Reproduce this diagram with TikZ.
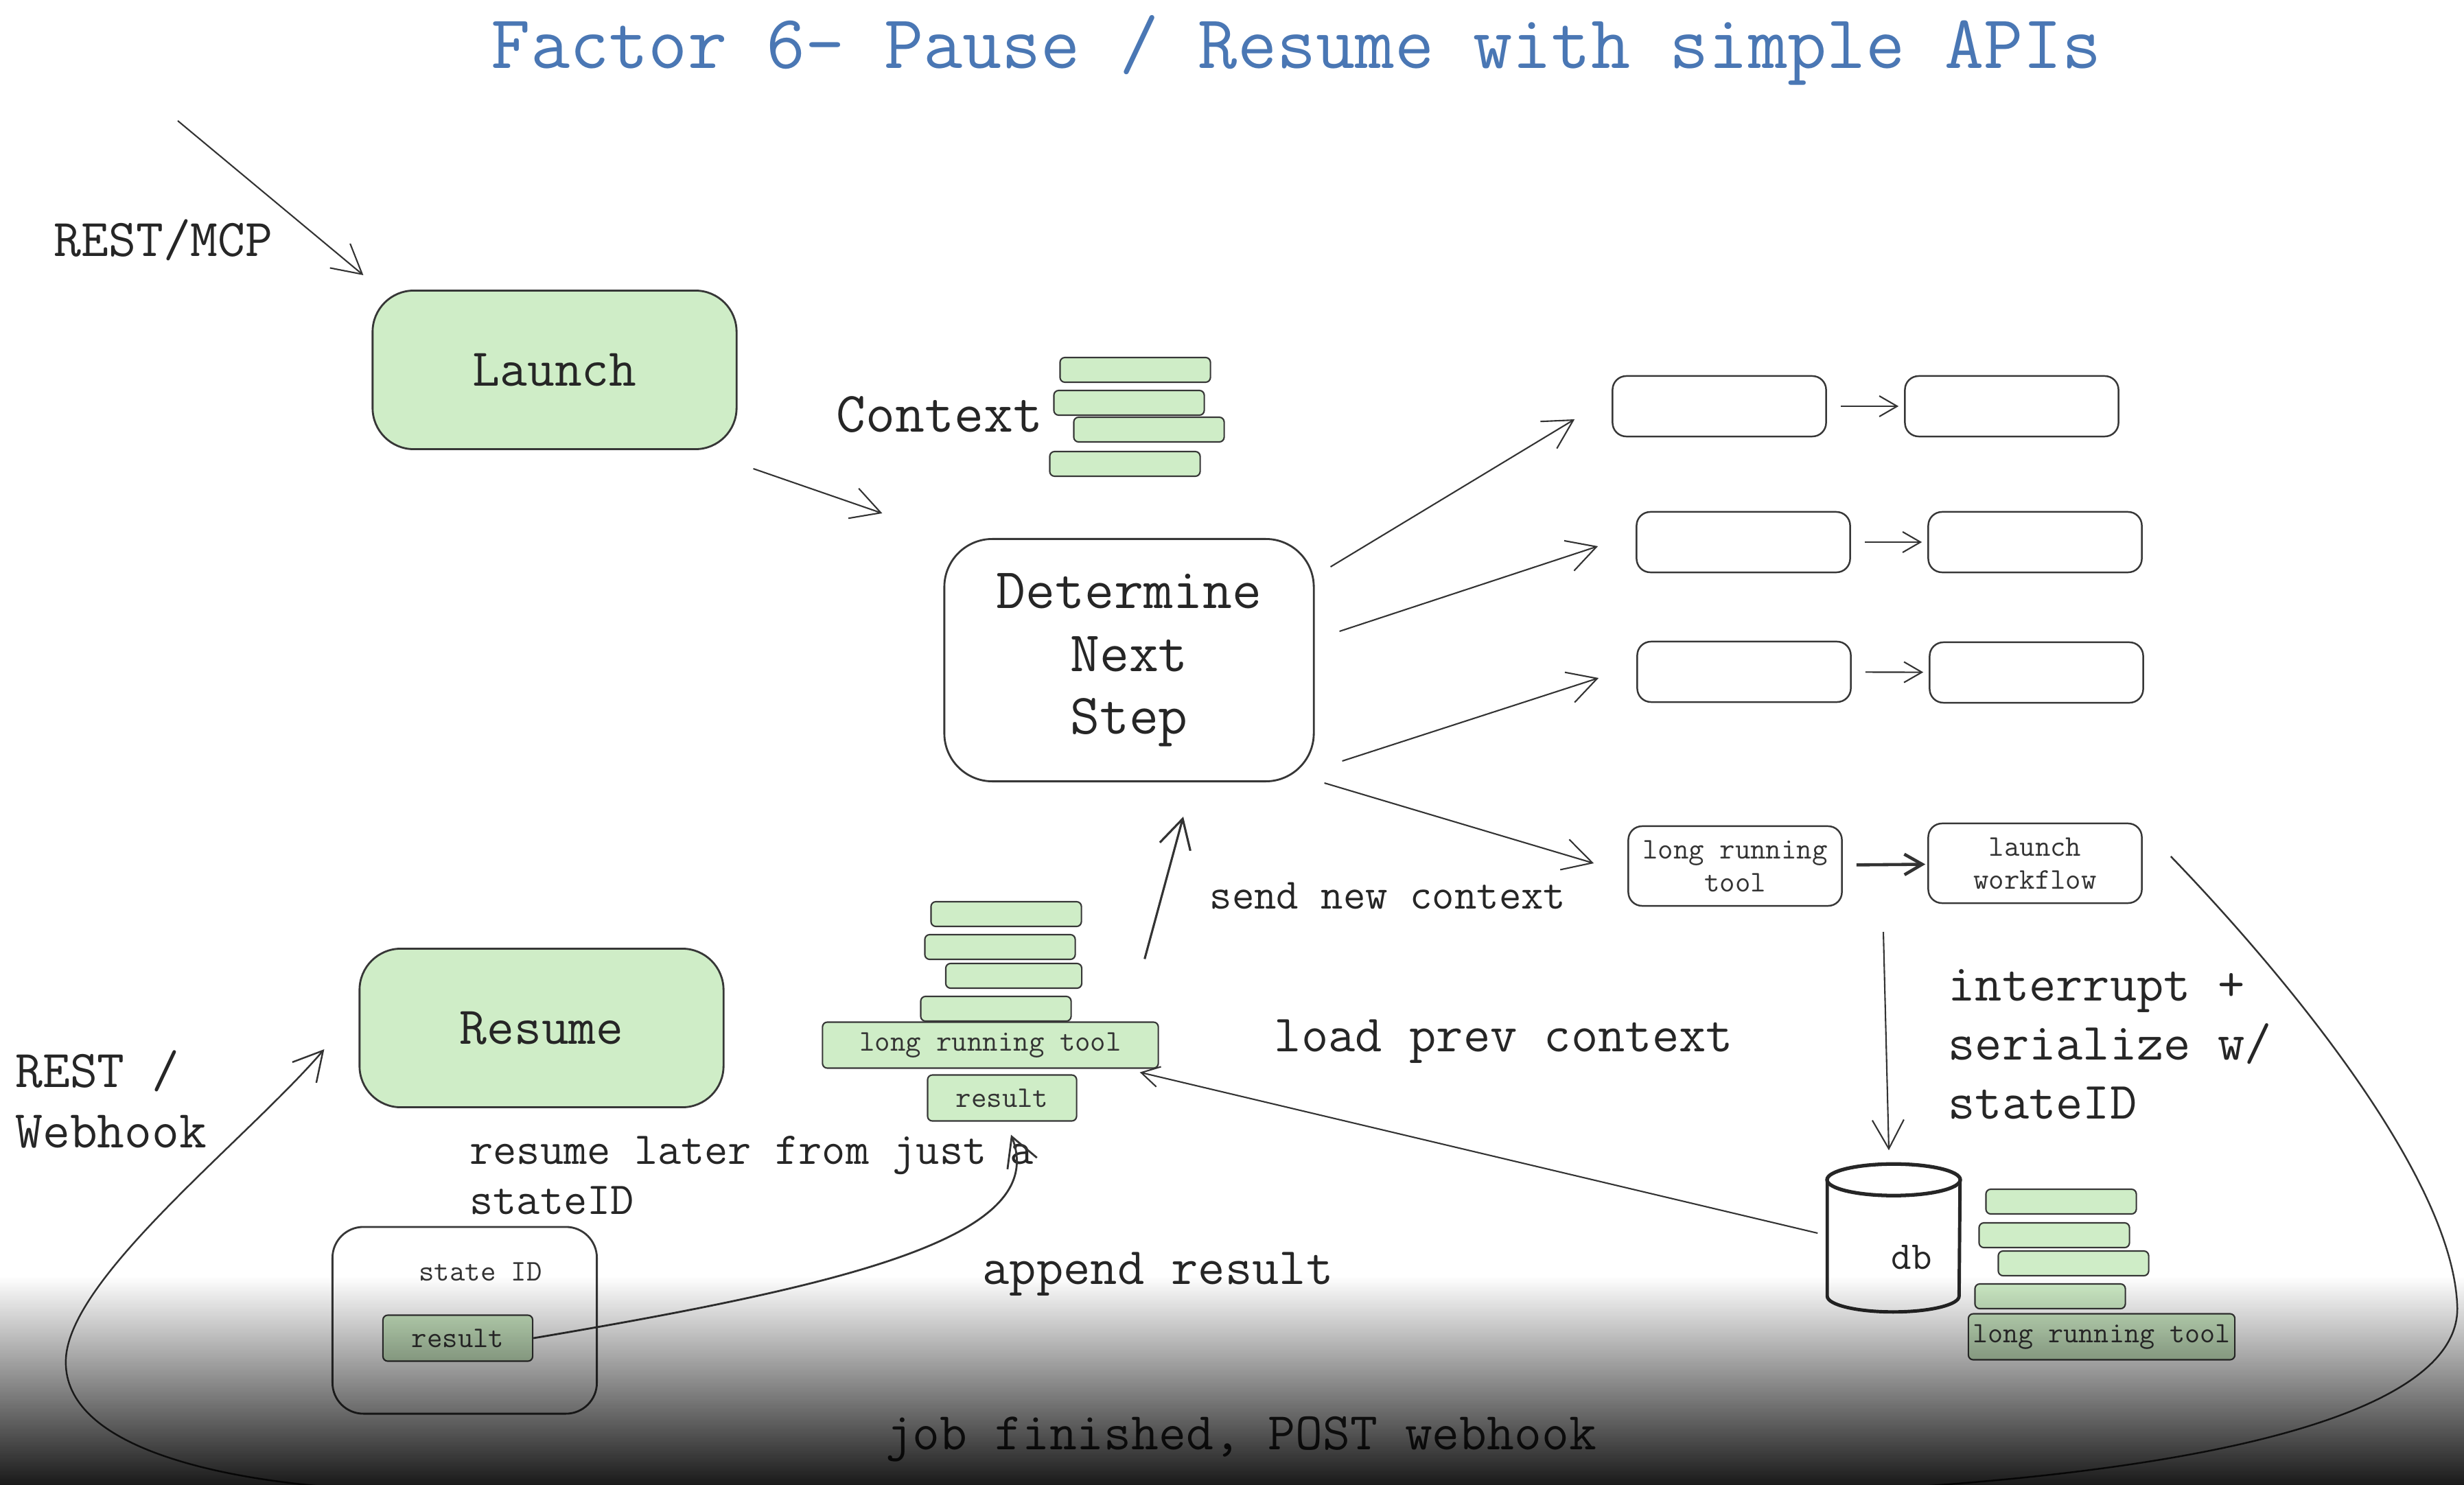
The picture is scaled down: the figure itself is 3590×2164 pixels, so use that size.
\documentclass[tikz,border=0pt]{standalone}
\usepackage{fontspec}
\usepackage{xcolor}
\usepackage{tikz}
\usetikzlibrary{arrows.meta,calc,fadings}
\definecolor{boxgreen}{RGB}{207,237,199}
\definecolor{edgegray}{RGB}{55,55,55}
\definecolor{titleblue}{RGB}{74,119,180}
\tikzfading[name=fadedown, top color=transparent!100, bottom color=transparent!0]
\tikzset{
	txt/.style = {font=\ttfamily\fontsize{22}{24.8}\selectfont, text=black!85},
	smalltxt/.style = {font=\ttfamily\fontsize{12.4}{13.7}\selectfont, text=black!80},
	greenbox/.style = {draw=edgegray, fill=boxgreen, rounded corners=0.6cm, line width=0.8pt, minimum width=5.3cm, minimum height=2.31cm, font=\ttfamily\fontsize{22}{26}\selectfont, text=black!85},
	stepbox/.style = {draw=edgegray, fill=white, rounded corners=0.7cm, line width=0.8pt, minimum width=5.38cm, minimum height=3.53cm, align=center, font=\ttfamily\fontsize{23.7}{26}\selectfont, text=black!85},
	emptybox/.style = {draw=edgegray, rounded corners=0.2cm, line width=0.7pt, minimum width=3.11cm, minimum height=0.88cm},
	toolbox/.style = {emptybox, smalltxt, minimum height=1.16cm, align=center},
	ctxbar/.style = {draw=edgegray, fill=boxgreen, rounded corners=0.07cm, line width=0.6pt, minimum width=2.19cm, minimum height=0.36cm, inner sep=0pt},
	toolbar/.style = {ctxbar, smalltxt, minimum height=0.67cm},
	flow/.style = {-{Straight Barb[length=0.42cm, width=0.46cm]}, line width=0.6pt, draw=black!80},
	minibarb/.style = {-{Straight Barb[length=0.26cm, width=0.3cm]}},
}

\begin{document}
\begin{tikzpicture}[x=0.01cm, y=-0.01cm]
	\useasboundingbox (0,0) rectangle (3590,2164);
	\node[font=\ttfamily\fontsize{31.6}{36}\selectfont, text=titleblue] (title) at (1889,73) {Factor 6- Pause / Resume with simple APIs};

	% main boxes
	\node[greenbox] (launch) at (808,539) {Launch};
	\node[greenbox] (resume) at (789,1498) {Resume};
	\node[stepbox] (det) at (1645,962) {Determine\\Next\\Step};

	% context stack
	\node[txt, font=\ttfamily\fontsize{23.7}{26}\selectfont] (ctxlbl) at (1369,604) {Context};
	\node[ctxbar] (c1) at (1654,539) {};
	\node[ctxbar] (c2) at (1645,587) {};
	\node[ctxbar] (c3) at (1674,626) {};
	\node[ctxbar] (c4) at (1639,676) {};

	% next steps
	\node[emptybox] (r1a) at (2505,592) {};
	\node[emptybox] (r1b) at (2931,592) {};
	\node[emptybox] (r2a) at (2540,790) {};
	\node[emptybox] (r2b) at (2965,790) {};
	\node[emptybox] (r3a) at (2541,979) {};
	\node[emptybox] (r3b) at (2967,980) {};
	\node[toolbox] (r4a) at (2528,1262) {long running\\tool};
	\node[toolbox] (lwf) at (2965,1258) {launch\\workflow};

	% tool stack
	\node[ctxbar] (t1) at (1466,1332) {};
	\node[ctxbar] (t2) at (1457,1380) {};
	\node[ctxbar, minimum width=1.98cm] (t3) at (1477,1422) {};
	\node[ctxbar] (t4) at (1451,1470) {};
	\node[toolbar, minimum width=4.89cm] (ltool) at (1443,1523) {long running tool};
	\node[toolbar, minimum width=2.17cm] (tres) at (1460,1600) {result};

	% state
	\node[draw=edgegray, rounded corners=0.45cm, line width=0.8pt, minimum width=3.85cm, minimum height=2.72cm] (statebox) at (677,1924) {};
	\node[smalltxt] (stateid) at (700,1853) {state ID};
	\node[toolbar, minimum width=2.18cm] (sres) at (667,1950) {result};

	% db
	\node[minimum width=1.96cm, minimum height=2.16cm] (db) at (2759,1805) {};
	\draw[line width=1.5pt, black!85] ($(db.north)+(0,23)$) ellipse [x radius=0.97cm, y radius=0.23cm];
	\draw[line width=1.4pt, black!85] ($(db.north west)+(2,23)$) -- ($(db.south west)+(2,-25)$) arc[start angle=180, end angle=360, x radius=0.96cm, y radius=0.23cm] -- ($(db.north east)+(-2,23)$);
	\node[txt, font=\ttfamily\fontsize{16.3}{18}\selectfont] (dblbl) at (2785,1832) {db};
	\node[ctxbar] (d1) at (3003,1751) {};
	\node[ctxbar] (d2) at (2993,1800) {};
	\node[ctxbar] (d3) at (3021,1841) {};
	\node[ctxbar] (d4) at (2987,1889) {};
	\node[toolbar, minimum width=3.88cm, inner xsep=1pt, font=\ttfamily\fontsize{12.2}{13}\selectfont] (dtool) at (3062,1948) {long running tool};

	% labels
	\node[txt] (mcplbl) at (238,350) {REST/MCP};
	\node[txt, align=left, anchor=west] (hooklbl) at (10,1602) {REST /\\Webhook};
	\node[txt, font=\ttfamily\fontsize{17.9}{20}\selectfont] (sendlbl) at (2022,1305) {send new context};
	\node[txt, align=left, anchor=west, font=\ttfamily\fontsize{18.9}{20.8}\selectfont] (laterlbl) at (672,1713) {resume later from just a\\stateID};
	\node[txt, font=\ttfamily\fontsize{21.7}{24}\selectfont] (applbl) at (1687,1857) {append result};
	\node[txt, font=\ttfamily\fontsize{21.7}{24}\selectfont] (loadlbl) at (2191,1518) {load prev context};
	\node[txt, align=left, anchor=west, font=\ttfamily\fontsize{21.7}{24.5}\selectfont] (serlbl) at (2826,1522) {interrupt +\\serialize w/\\stateID};
	\node[txt] (donelbl) at (1808,2097) {job finished, POST webhook};

	% arrows
	\coordinate (mcpsrc) at (259,176);
	\coordinate (serial) at (2744,1358);
	\draw[flow] (mcpsrc) -- ($(launch.north west)+(-12,-21)$);
	\draw[flow] ($(launch.south east)+(23,27)$) -- ($(det.north west)+(-89,-36)$);
	\draw[flow] ($(det.east)+(23,-136)$) -- ($(r1a.west)+(-54,19)$);
	\draw[flow] ($(det.east)+(36,-42)$) -- ($(r2a.west)+(-55,6)$);
	\draw[flow] ($(det.east)+(40,147)$) -- ($(r3a.west)+(-55,9)$);
	\draw[flow] ($(det.east)+(14,179)$) -- ($(r4a.west)+(-49,-4)$);
	\foreach \a/\b in {r1a/r1b, r2a/r2b, r3a/r3b}
		\draw[flow, minibarb, shorten <=0.2cm, shorten >=0.08cm] (\a) -- (\b);
	\draw[flow, minibarb, line width=1.3pt, shorten <=0.2cm, shorten >=0.03cm] (r4a) -- (lwf);
	\draw[flow, line width=0.9pt] ($(ltool.north east)+(-21,-91)$) -- ($(det.south)+(79,50)$);
	\draw[flow] (serial) -- ($(db.north)+(-7,-20)$);
	\draw[flow, minibarb] ($(db.west)+(-12,-8)$) -- ($(ltool.south east)+(-28,5)$);
	\draw[flow, line width=0.8pt] (sres.east) .. controls (1250,1870) and (1530,1800) .. ($(tres.south)+(13,19)$);
	\draw[flow, line width=0.7pt] ($(lwf.east)+(41,-10)$) .. controls (3300,1390) and (3570,1700) .. (3580,1900)
		.. controls (3590,2040) and (3300,2140) .. (2700,2172)
		.. controls (2200,2190) and (900,2195) .. (470,2166)
		.. controls (290,2150) and (90,2100) .. (96,1980)
		.. controls (102,1860) and (360,1660) .. ($(resume.west)+(-50,31)$);

	% dark band at the bottom
	\fill[black, opacity=0.9, path fading=fadedown] (-20,1860) rectangle (3610,2164);
\end{tikzpicture}
\end{document}
